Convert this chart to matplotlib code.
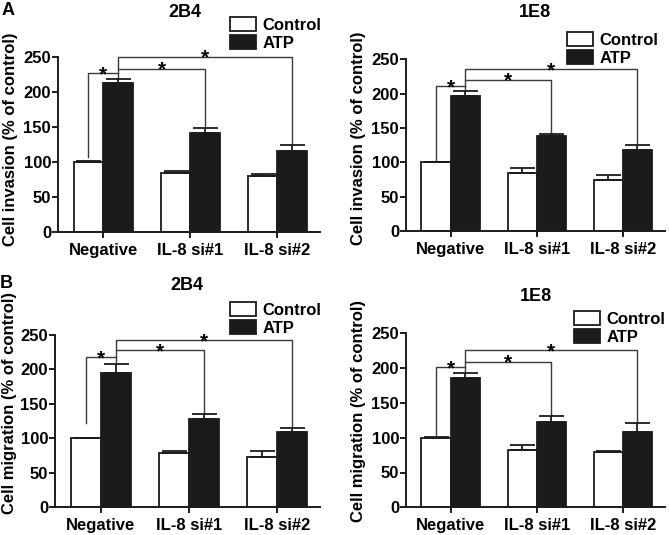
import matplotlib
matplotlib.use('Agg')
import matplotlib.pyplot as plt
import numpy as np

plt.rcParams['font.family'] = ['Liberation Sans', 'DejaVu Sans']
plt.rcParams['font.weight'] = 'bold'
plt.rcParams['axes.labelweight'] = 'bold'

groups = ['Negative', 'IL-8 si#1', 'IL-8 si#2']
series = ['Control', 'ATP']

# invasion, 2B4
inv_2b4_ctrl = [100, 84.5, 79.5]
inv_2b4_ctrl_err = [0.5, 2, 3]
inv_2b4_atp = [213, 140.5, 116]
inv_2b4_atp_err = [5, 7, 8]

# invasion, 1E8
inv_1e8_ctrl = [100, 84, 75]
inv_1e8_ctrl_err = [0.5, 8, 7]
inv_1e8_atp = [197, 138, 118]
inv_1e8_atp_err = [7.5, 3.5, 8]

# migration, 2B4
mig_2b4_ctrl = [100, 79.5, 72.5]
mig_2b4_ctrl_err = [0.5, 2, 9]
mig_2b4_atp = [195.5, 127.5, 109.5]
mig_2b4_atp_err = [13, 8.5, 5.5]

# migration, 1E8
mig_1e8_ctrl = [100, 82, 80]
mig_1e8_ctrl_err = [0.5, 7.5, 1]
mig_1e8_atp = [186, 123, 108.5]
mig_1e8_atp_err = [6.5, 8.5, 12]

# significance bracket heights (b1, b2, b3) and left-leg bottom of b1
inv_2b4_brackets = [226, 233, 250]
inv_1e8_brackets = [211, 220, 235.5]
mig_2b4_brackets = [217.5, 228, 242.5]
mig_1e8_brackets = [201, 209, 226]
leg_bottoms = [107, 102, 123, 104]

W, H = 669, 535
fig = plt.figure(figsize=(W / 100, H / 100), dpi=100)


def px(x, y):
    return x / W, 1 - y / H


panels = [
    # rect in pixels: left, top, right, bottom
    ((58, 56.7, 320, 231.7), '2B4', (185, 17), 'Cell invasion (% of control)', (11, 139),
     (230, 17), inv_2b4_ctrl, inv_2b4_ctrl_err, inv_2b4_atp, inv_2b4_atp_err, inv_2b4_brackets),
    ((406, 59.3, 665, 231.2), '1E8', (535, 17), 'Cell invasion (% of control)', (359, 138.5),
     (567, 32), inv_1e8_ctrl, inv_1e8_ctrl_err, inv_1e8_atp, inv_1e8_atp_err, inv_1e8_brackets),
    ((55, 335, 320, 507.3), '2B4', (187, 290), 'Cell migration (% of control)', (10, 403),
     (230, 302), mig_2b4_ctrl, mig_2b4_ctrl_err, mig_2b4_atp, mig_2b4_atp_err, mig_2b4_brackets),
    ((406, 333.3, 665, 507.3), '1E8', (536, 301), 'Cell migration (% of control)', (359, 411),
     (574, 311), mig_1e8_ctrl, mig_1e8_ctrl_err, mig_1e8_atp, mig_1e8_atp_err, mig_1e8_brackets),
]

x = np.arange(len(groups))
bw = 0.34
dark = '#1b1b1b'

for i, (rect, title, tpos, ylab, ypos, lpos, ctrl, cerr, atp, aerr, br) in enumerate(panels):
    l, t, r, b = rect
    ax = fig.add_axes([l / W, 1 - b / H, (r - l) / W, (b - t) / H])
    atp_top = np.array(atp) + np.array(aerr)
    ax.bar(x - bw / 2, ctrl, bw, color='white', edgecolor=dark, linewidth=1.3,
           yerr=[np.zeros(3), cerr], error_kw=dict(ecolor=dark, elinewidth=1.3, capsize=9, capthick=1.3),
           label=series[0], zorder=2)
    ax.bar(x + bw / 2, atp, bw, color=dark, edgecolor=dark, linewidth=1.3,
           yerr=[np.zeros(3), aerr], error_kw=dict(ecolor=dark, elinewidth=1.3, capsize=9, capthick=1.3),
           label=series[1], zorder=2)

    # significance brackets
    xa = x[0] + bw / 2
    lw = 1.0
    bc = '#3a3a3a'
    ax.plot([x[0] - bw / 2, x[0] - bw / 2, xa, xa],
            [leg_bottoms[i], br[0], br[0], atp_top[0] + 2], color=bc, lw=lw, clip_on=False)
    ax.plot([xa, xa, x[1] + bw / 2, x[1] + bw / 2],
            [br[0], br[1], br[1], atp_top[1] + 1.5], color=bc, lw=lw, clip_on=False)
    ax.plot([xa, xa, x[2] + bw / 2, x[2] + bw / 2],
            [br[1], br[2], br[2], atp_top[2] + 1.5], color=bc, lw=lw, clip_on=False)
    for xs, yl in [(x[0], br[0]), ((xa + x[1] + bw / 2) / 2, br[1]), ((xa + x[2] + bw / 2) / 2, br[2])]:
        ax.annotate('*', (xs, yl), xytext=(0, -5), textcoords='offset points',
                    ha='center', va='baseline', fontsize=15, fontweight='bold', annotation_clip=False)

    ax.set_xlim(-0.52, 2.49)
    ax.set_ylim(0, 250)
    ax.set_yticks([0, 50, 100, 150, 200, 250])
    ax.set_xticks(x)
    ax.set_xticklabels(groups)
    for s in ['top', 'right']:
        ax.spines[s].set_visible(False)
    for s in ['left', 'bottom']:
        ax.spines[s].set_linewidth(1.4)
        ax.spines[s].set_color(dark)
    ax.tick_params(axis='both', labelsize=12, width=1.4, length=4, color=dark)
    ax.tick_params(axis='y', pad=1)
    ax.tick_params(axis='x', pad=4)
    for lab in ax.get_xticklabels() + ax.get_yticklabels():
        lab.set_fontweight('bold')

    fig.text(*px(*tpos), title, ha='center', va='baseline', fontsize=13, fontweight='bold')
    fig.text(*px(*ypos), ylab, ha='center', va='center', rotation=90, fontsize=12, fontweight='bold')
    ax.legend(loc='upper left', bbox_to_anchor=px(*lpos), bbox_transform=fig.transFigure,
              frameon=False, fontsize=12, borderpad=0, borderaxespad=0, handlelength=1.55,
              handleheight=0.9, handletextpad=0.4, labelspacing=0.15)

fig.text(*px(2, 15), 'A', ha='left', va='baseline', fontsize=13, fontweight='bold')
fig.text(*px(0, 288), 'B', ha='left', va='baseline', fontsize=13, fontweight='bold')

fig.savefig('out.png', dpi=100)
